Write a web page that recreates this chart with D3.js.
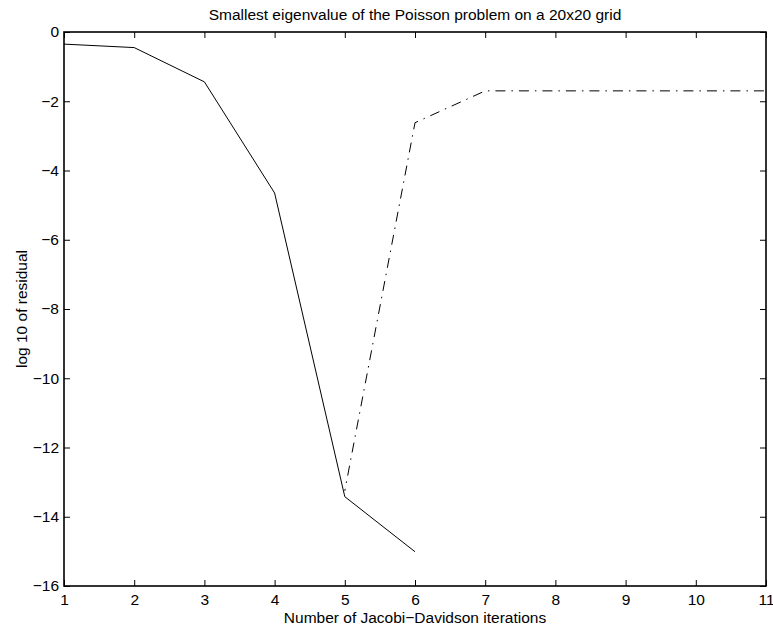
<!DOCTYPE html>
<html>
<head>
<meta charset="utf-8">
<script src="https://cdn.jsdelivr.net/npm/d3@7"></script>
<style>
body{margin:0;background:#fff;}
svg text{font-family:"Liberation Sans",Arial,Helvetica,sans-serif;fill:#000;}
</style>
</head>
<body>
<svg id="chart" width="773" height="628"></svg>
<script>
var iterations = [1,2,3,4,5,6,7,8,9,10,11];
var solidX = [1,2,3,4,5,6];
var solidY = [-0.35,-0.45,-1.44,-4.65,-13.42,-15.01];
var dashX = [5,6,7,8,9,10,11];
var dashY = [-13.25,-2.62,-1.70,-1.70,-1.70,-1.70,-1.70];
var yTicks = [0,-2,-4,-6,-8,-10,-12,-14,-16];

var title = 'Smallest eigenvalue of the Poisson problem on a 20x20 grid';
var xLabel = 'Number of Jacobi\u2212Davidson iterations';
var yLabel = 'log 10 of residual';

// plot box (note: "top" is reserved on window, so use plot* names)
var plotLeft = 64, plotRight = 766, plotTop = 32, plotBottom = 586;
var fontSize = '15.5px';
var svg = d3.select('#chart');

var x = d3.scaleLinear().domain([1,11]).range([plotLeft,plotRight]);
var y = d3.scaleLinear().domain([-16,0]).range([plotBottom,plotTop]);

function fmt(d){ return d < 0 ? '\u2212'+Math.abs(d) : String(d); }

// ticks on all four sides, pointing inward
var tickLen = 6;
var axisB = d3.axisBottom(x).tickValues(iterations).tickSizeInner(-tickLen).tickSizeOuter(0).tickPadding(8).tickFormat(fmt);
var axisT = d3.axisTop(x).tickValues(iterations).tickSizeInner(-tickLen).tickSizeOuter(0).tickFormat('');
var axisL = d3.axisLeft(y).tickValues(yTicks).tickSizeInner(-tickLen).tickSizeOuter(0).tickPadding(5).tickFormat(fmt);
var axisR = d3.axisRight(y).tickValues(yTicks).tickSizeInner(-tickLen).tickSizeOuter(0).tickFormat('');

function styleAxis(g){
    g.select('.domain').remove();
    g.selectAll('.tick line').attr('stroke','#000').attr('stroke-width',1);
    g.selectAll('.tick text').attr('font-size',fontSize).attr('fill','#000')
        .attr('font-family','"Liberation Sans",Arial,sans-serif');
}

svg.append('g').attr('transform','translate(0,'+plotBottom+')').call(axisB).call(styleAxis);
svg.append('g').attr('transform','translate(0,'+plotTop+')').call(axisT).call(styleAxis);
svg.append('g').attr('transform','translate('+plotLeft+',0)').call(axisL).call(styleAxis);
svg.append('g').attr('transform','translate('+plotRight+',0)').call(axisR).call(styleAxis);

svg.append('rect').attr('x',plotLeft).attr('y',plotTop).attr('width',plotRight-plotLeft).attr('height',plotBottom-plotTop)
    .attr('fill','none').attr('stroke','#000').attr('stroke-width',1.6);

var line = d3.line().x(function(d){return x(d[0]);}).y(function(d){return y(d[1]);});

svg.append('path').datum(d3.zip(solidX,solidY)).attr('d',line)
    .attr('fill','none').attr('stroke','#000').attr('stroke-width',1);
svg.append('path').datum(d3.zip(dashX,dashY)).attr('d',line)
    .attr('fill','none').attr('stroke','#000').attr('stroke-width',1)
    .attr('stroke-dasharray','10,6,1.5,6').attr('stroke-dashoffset',8);

svg.append('text').attr('x',(plotLeft+plotRight)/2).attr('y',20).attr('text-anchor','middle')
    .attr('font-size',fontSize).text(title);
svg.append('text').attr('x',(plotLeft+plotRight)/2).attr('y',623).attr('text-anchor','middle')
    .attr('font-size',fontSize).text(xLabel);
svg.append('text').attr('transform','translate(27,'+((plotTop+plotBottom)/2)+') rotate(-90)')
    .attr('text-anchor','middle').attr('font-size',fontSize).text(yLabel);
</script>
</body>
</html>
